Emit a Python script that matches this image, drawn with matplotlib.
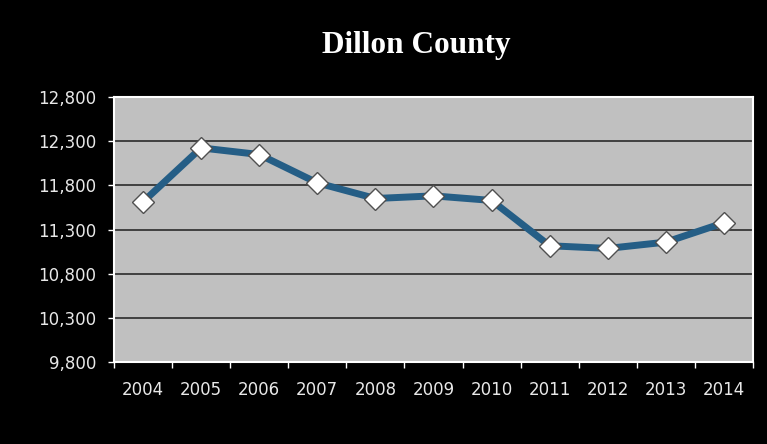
import numpy as np
import matplotlib.pyplot as plt
from matplotlib.ticker import FuncFormatter, FixedLocator

# data
years = ["2004", "2005", "2006", "2007", "2008", "2009", "2010",
         "2011", "2012", "2013", "2014"]
population = [11613, 12224, 12149, 11828, 11651, 11681, 11629,
              11116, 11086, 11157, 11376]
y_ticks = [9800, 10300, 10800, 11300, 11800, 12300, 12800]

fig = plt.figure(figsize=(7.67, 4.44), dpi=100, facecolor="black")
ax = fig.add_axes([0.1486, 0.1847, 0.8331, 0.5968])
ax.set_facecolor("#C0C0C0")

x = np.arange(len(years))
ax.plot(x, population, color="#255E86", linewidth=5, solid_joinstyle="round",
        marker="D", markersize=11.5, markerfacecolor="white",
        markeredgecolor="#505050", markeredgewidth=1.0, zorder=3)

ax.set_ylim(y_ticks[0], y_ticks[-1])
ax.set_yticks(y_ticks)
ax.yaxis.set_major_formatter(FuncFormatter(lambda v, p: f"{int(v):,}"))
ax.set_xlim(-0.5, len(years) - 0.5)
ax.set_xticks(x)
ax.set_xticklabels(years)
ax.xaxis.set_minor_locator(FixedLocator(np.arange(-0.5, len(years), 1.0)))

ax.grid(axis="y", color="#2a2a2a", linewidth=1.2)
ax.set_axisbelow(True)

for s in ax.spines.values():
    s.set_color("white")
    s.set_linewidth(1.5)

ax.tick_params(axis="y", colors="white", labelcolor="#E8E8E8", length=4.3,
               width=1, labelsize=12, pad=8.5)
ax.tick_params(axis="x", which="major", length=0, labelcolor="#E8E8E8",
               labelsize=12, pad=13.5)
ax.tick_params(axis="x", which="minor", colors="white", length=4.3, width=1)

fig.text(416 / 767, 1 - 45 / 444, "Dillon County", color="white",
         fontsize=22.5, fontweight="bold", family="Liberation Serif",
         ha="center", va="center")

fig.savefig("out.png", dpi=100, facecolor="black")
